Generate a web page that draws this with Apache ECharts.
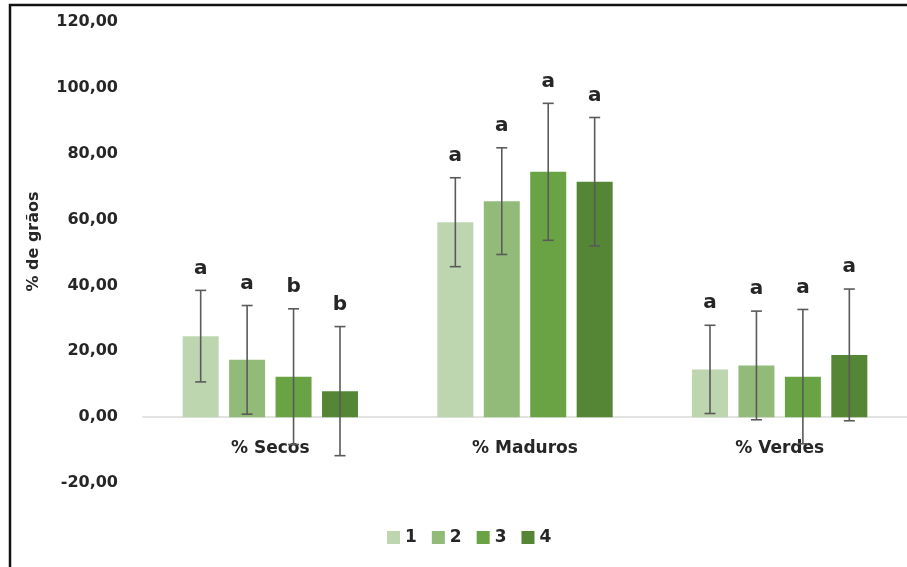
<!DOCTYPE html>
<html>
<head>
<meta charset="utf-8">
<script src="https://cdn.jsdelivr.net/npm/echarts@6/dist/echarts.min.js"></script>
<style>
  html, body { margin: 0; padding: 0; background: #fff; }
  #chart { width: 907px; height: 567px; }
</style>
</head>
<body>
<div id="chart"></div>
<script>
// Grain maturity classes and treatments
const categories = ['% Secos', '% Maduros', '% Verdes'];
const treatments = ['1', '2', '3', '4'];

// Mean percentages per treatment (one array per treatment, in category order)
const means1 = [24.6, 59.2, 14.5];
const means2 = [17.4, 65.6, 15.7];
const means3 = [12.3, 74.5, 12.3];
const means4 = [7.9, 71.5, 18.9];

// Standard deviations (symmetric error bars)
const sd1 = [13.9, 13.5, 13.4];
const sd2 = [16.5, 16.2, 16.5];
const sd3 = [20.6, 20.8, 20.4];
const sd4 = [19.6, 19.5, 20.0];

// Significance letters
const letters1 = ['a', 'a', 'a'];
const letters2 = ['a', 'a', 'a'];
const letters3 = ['b', 'a', 'a'];
const letters4 = ['b', 'a', 'a'];

// Y axis ticks
const yMin = -20, yMax = 120, yStep = 20;

const colors = ['#bdd6b0', '#92bb7a', '#6aa343', '#558636'];
const means = [means1, means2, means3, means4];
const sds = [sd1, sd2, sd3, sd4];
const letters = [letters1, letters2, letters3, letters4];

const FONT = 'DejaVu Sans';
const TEXT = '#262626';
const BAR_W = 36;
const BAR_GAP = 0.29; // fraction of bar width

const chart = echarts.init(document.getElementById('chart'), null, { renderer: 'canvas' });

const barSeries = treatments.map((name, i) => ({
  name,
  type: 'bar',
  data: means[i],
  barWidth: BAR_W,
  barGap: (BAR_GAP * 100) + '%',
  itemStyle: { color: colors[i] },
  z: 2,
  emphasis: { disabled: true }
}));

// Error bars with caps and the significance letter above each bar
const errSeries = treatments.map((name, i) => ({
  type: 'custom',
  name: 'err' + name,
  z: 5,
  silent: true,
  encode: { x: 0, y: [1, 2] },
  data: categories.map((c, k) => [k, means[i][k] - sds[i][k], means[i][k] + sds[i][k], letters[i][k]]),
  renderItem(params, api) {
    const k = api.value(0);
    const lo = api.coord([k, api.value(1)]);
    const hi = api.coord([k, api.value(2)]);
    const step = BAR_W * (1 + BAR_GAP);
    const x = lo[0] + (i - 1.5) * step;
    const cap = 5.5;
    const st = { stroke: '#5a5a5a', lineWidth: 1.6 };
    return {
      type: 'group',
      children: [
        { type: 'line', shape: { x1: x, y1: lo[1], x2: x, y2: hi[1] }, style: st },
        { type: 'line', shape: { x1: x - cap, y1: lo[1], x2: x + cap, y2: lo[1] }, style: st },
        { type: 'line', shape: { x1: x - cap, y1: hi[1], x2: x + cap, y2: hi[1] }, style: st },
        {
          type: 'text',
          x: x, y: hi[1] - 12,
          style: {
            text: api.value(3),
            fill: TEXT,
            font: 'bold 20px "' + FONT + '"',
            textAlign: 'center',
            textVerticalAlign: 'bottom'
          }
        }
      ]
    };
  }
}));

chart.setOption({
  animation: false,
  backgroundColor: '#fff',
  grid: { left: 143, top: 22, width: 771, bottom: 84 },
  legend: {
    data: treatments,
    left: 382,
    top: 524,
    icon: 'rect',
    itemWidth: 13,
    itemHeight: 13,
    itemGap: 15,
    textStyle: { color: TEXT, fontFamily: FONT, fontWeight: 'bold', fontSize: 17 }
  },
  xAxis: {
    type: 'category',
    data: categories,
    axisTick: { show: false },
    axisLine: { onZero: true, lineStyle: { color: '#d9d9d9', width: 1.5 } },
    axisLabel: {
      color: TEXT, fontFamily: FONT, fontWeight: 'bold', fontSize: 17,
      margin: -43
    },
    splitLine: { show: false }
  },
  yAxis: {
    type: 'value',
    min: yMin, max: yMax, interval: yStep,
    name: '% de grãos',
    nameLocation: 'middle',
    nameGap: 101,
    nameRotate: 90,
    nameTextStyle: { color: TEXT, fontFamily: FONT, fontWeight: 'bold', fontSize: 16, padding: [0, 0, 0, 22] },
    axisLine: { show: false },
    axisTick: { show: false },
    splitLine: { show: false },
    axisLabel: {
      color: TEXT, fontFamily: FONT, fontWeight: 'bold', fontSize: 16, margin: 25,
      formatter: v => v.toFixed(2).replace('.', ',')
    }
  },
  graphic: [{
    type: 'rect',
    shape: { x: 10, y: 5, width: 1000, height: 1000 },
    style: { fill: 'none', stroke: '#111', lineWidth: 2.5 },
    z: 100,
    silent: true
  }],
  series: [...barSeries, ...errSeries]
});
</script>
</body>
</html>
